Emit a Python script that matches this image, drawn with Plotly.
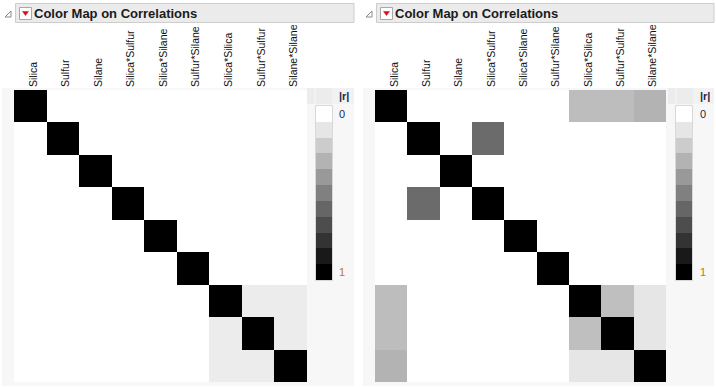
import plotly.graph_objects as go

W, H = 716, 387

terms = ["Silica", "Sulfur", "Silane", "Silica*Sulfur", "Silica*Silane",
         "Sulfur*Silane", "Silica*Silica", "Sulfur*Sulfur", "Silane*Silane"]

# |r| values, left panel (orthogonal design)
left_r = [
    [1, 0, 0, 0, 0, 0, 0, 0, 0],
    [0, 1, 0, 0, 0, 0, 0, 0, 0],
    [0, 0, 1, 0, 0, 0, 0, 0, 0],
    [0, 0, 0, 1, 0, 0, 0, 0, 0],
    [0, 0, 0, 0, 1, 0, 0, 0, 0],
    [0, 0, 0, 0, 0, 1, 0, 0, 0],
    [0, 0, 0, 0, 0, 0, 1, 0.075, 0.075],
    [0, 0, 0, 0, 0, 0, 0.075, 1, 0.075],
    [0, 0, 0, 0, 0, 0, 0.075, 0.075, 1],
]

# |r| values, right panel
right_r = [
    [1, 0, 0, 0, 0, 0, 0.26, 0.26, 0.30],
    [0, 1, 0, 0.58, 0, 0, 0, 0, 0],
    [0, 0, 1, 0, 0, 0, 0, 0, 0],
    [0, 0.58, 0, 1, 0, 0, 0, 0, 0],
    [0, 0, 0, 0, 1, 0, 0, 0, 0],
    [0, 0, 0, 0, 0, 1, 0, 0, 0],
    [0.26, 0, 0, 0, 0, 0, 1, 0.25, 0.10],
    [0.26, 0, 0, 0, 0, 0, 0.25, 1, 0.10],
    [0.30, 0, 0, 0, 0, 0, 0.10, 0.10, 1],
]

legend_levels = [0, 0.1, 0.2, 0.3, 0.4, 0.5, 0.6, 0.7, 0.8, 0.9, 1.0]
legend_labels = {0: "0", 10: "1"}
title_text = "Color Map on Correlations"

cscale = [[0, "#ffffff"], [1, "#000000"]]


def px(x):
    return x / W


def py(y):
    return 1 - y / H


fig = go.Figure()
shapes = []
annotations = []

panels = [
    dict(dx=0, z=left_r, mx=(14, 307), cb=(316, 332), bar_end=354, idx=1),
    dict(dx=361, z=right_r, mx=(375, 666), cb=(676, 692), bar_end=714, idx=2),
]

layout_axes = {}
for p in panels:
    dx = p["dx"]
    i = p["idx"]
    xa = "x" if i == 1 else f"x{i}"
    ya = "y" if i == 1 else f"y{i}"
    xk = "xaxis" if i == 1 else f"xaxis{i}"
    yk = "yaxis" if i == 1 else f"yaxis{i}"
    fig.add_trace(go.Heatmap(
        z=p["z"], x=terms, y=terms, colorscale=cscale, zmin=0, zmax=1,
        showscale=False, xaxis=xa, yaxis=ya, hoverongaps=False))
    layout_axes[xk] = dict(domain=[px(p["mx"][0]), px(p["mx"][1])], anchor=ya,
                           side="top", tickangle=-90, showgrid=False,
                           zeroline=False, showline=False, ticks="",
                           ticklabelshift=3, ticklabelstandoff=2,
                           tickfont=dict(family="Liberation Sans, Arial", size=10.5,
                                         color="#111111"),
                           fixedrange=True)
    layout_axes[yk] = dict(domain=[py(382), py(90)], anchor=xa,
                           autorange="reversed", showticklabels=False,
                           showgrid=False, zeroline=False, showline=False,
                           ticks="", fixedrange=True)

    # legend colour bar
    j = i + 2
    xa2, ya2 = f"x{j}", f"y{j}"
    fig.add_trace(go.Heatmap(
        z=[[v] for v in legend_levels], x=[0], y=list(range(len(legend_levels))),
        colorscale=cscale, zmin=0, zmax=1, showscale=False,
        xaxis=xa2, yaxis=ya2))
    layout_axes[f"xaxis{j}"] = dict(domain=[px(p["cb"][0]), px(p["cb"][1])],
                                    anchor=ya2, visible=False, fixedrange=True)
    layout_axes[f"yaxis{j}"] = dict(domain=[py(280), py(106)], anchor=xa2,
                                    autorange="reversed", visible=False,
                                    fixedrange=True)
    cbx0, cbx1 = p["cb"]
    # outline around legend
    shapes.append(dict(type="rect", xref="paper", yref="paper",
                       x0=px(cbx0 - 0.5), x1=px(cbx1 + 0.5), y0=py(280.5), y1=py(105.5),
                       line=dict(color="#d8d8d8", width=1), layer="above"))

    # panel grey background
    shapes.append(dict(type="rect", xref="paper", yref="paper",
                       x0=px(2 + dx), x1=px(p["bar_end"]), y0=py(386), y1=py(88),
                       fillcolor="#f7f7f7", line=dict(width=0), layer="below"))
    # legend header row
    shapes.append(dict(type="rect", xref="paper", yref="paper",
                       x0=px(307 + dx), x1=px(p["bar_end"]), y0=py(104), y1=py(88),
                       fillcolor="#ececec", line=dict(width=0), layer="below"))
    for xv in (315, 333):
        shapes.append(dict(type="line", xref="paper", yref="paper",
                           x0=px(xv + dx), x1=px(xv + dx), y0=py(104), y1=py(88),
                           line=dict(color="#f7f7f7", width=1), layer="below"))
    shapes.append(dict(type="rect", xref="paper", yref="paper",
                       x0=px(333 + dx), x1=px(p["bar_end"]), y0=py(104), y1=py(88),
                       fillcolor="#f2f2f2", line=dict(width=0), layer="below"))
    # title bar
    shapes.append(dict(type="rect", xref="paper", yref="paper",
                       x0=px(15.5 + dx), x1=px(p["bar_end"]), y0=py(22.5), y1=py(3.5),
                       fillcolor="#ebebeb", line=dict(color="#cdcdcd", width=1),
                       layer="below"))
    # disclosure triangle
    shapes.append(dict(type="path", xref="paper", yref="paper",
                       path=(f"M {px(5+dx)} {py(17)} L {px(11+dx)} {py(17)} "
                             f"L {px(11+dx)} {py(11)} Z"),
                       fillcolor="#ffffff", line=dict(color="#8a8a8a", width=1),
                       layer="above"))
    # red dropdown button
    shapes.append(dict(type="rect", xref="paper", yref="paper",
                       x0=px(19.5 + dx), x1=px(31.5 + dx), y0=py(19.5), y1=py(7.5),
                       fillcolor="#ffffff", line=dict(color="#a8a8a8", width=1),
                       layer="above"))
    shapes.append(dict(type="path", xref="paper", yref="paper",
                       path=(f"M {px(22.5+dx)} {py(11.5)} L {px(28.5+dx)} {py(11.5)} "
                             f"L {px(25.5+dx)} {py(15.5)} Z"),
                       fillcolor="#d0101a", line=dict(color="#d0101a", width=0.5),
                       layer="above"))
    annotations.append(dict(text=f"<b>{title_text}</b>", xref="paper", yref="paper",
                            x=px(32 + dx), y=py(13), xanchor="left", yanchor="middle",
                            showarrow=False,
                            font=dict(family="Liberation Sans, Arial", size=13,
                                      color="#1a1a1a")))
    annotations.append(dict(text="<b>|r|</b>", xref="paper", yref="paper",
                            x=px(337 + dx), y=py(96), xanchor="left", yanchor="middle",
                            showarrow=False,
                            font=dict(family="Liberation Sans, Arial", size=11,
                                      color="#1f2a44")))
    n = len(legend_levels)
    for k, lab in legend_labels.items():
        yc = 106 + (k + 0.5) * (280 - 106) / n
        annotations.append(dict(text=lab, xref="paper", yref="paper",
                                x=px(337 + dx), y=py(yc), xanchor="left",
                                yanchor="middle", showarrow=False,
                                font=dict(family="Liberation Sans, Arial", size=11,
                                          color="#1f2a44" if k == 0 else "#c77800")))

fig.update_layout(width=W, height=H, margin=dict(l=0, r=0, t=0, b=0),
                  paper_bgcolor="#ffffff", plot_bgcolor="rgba(0,0,0,0)",
                  shapes=shapes, annotations=annotations, showlegend=False,
                  **layout_axes)

fig.write_html("out.html")
